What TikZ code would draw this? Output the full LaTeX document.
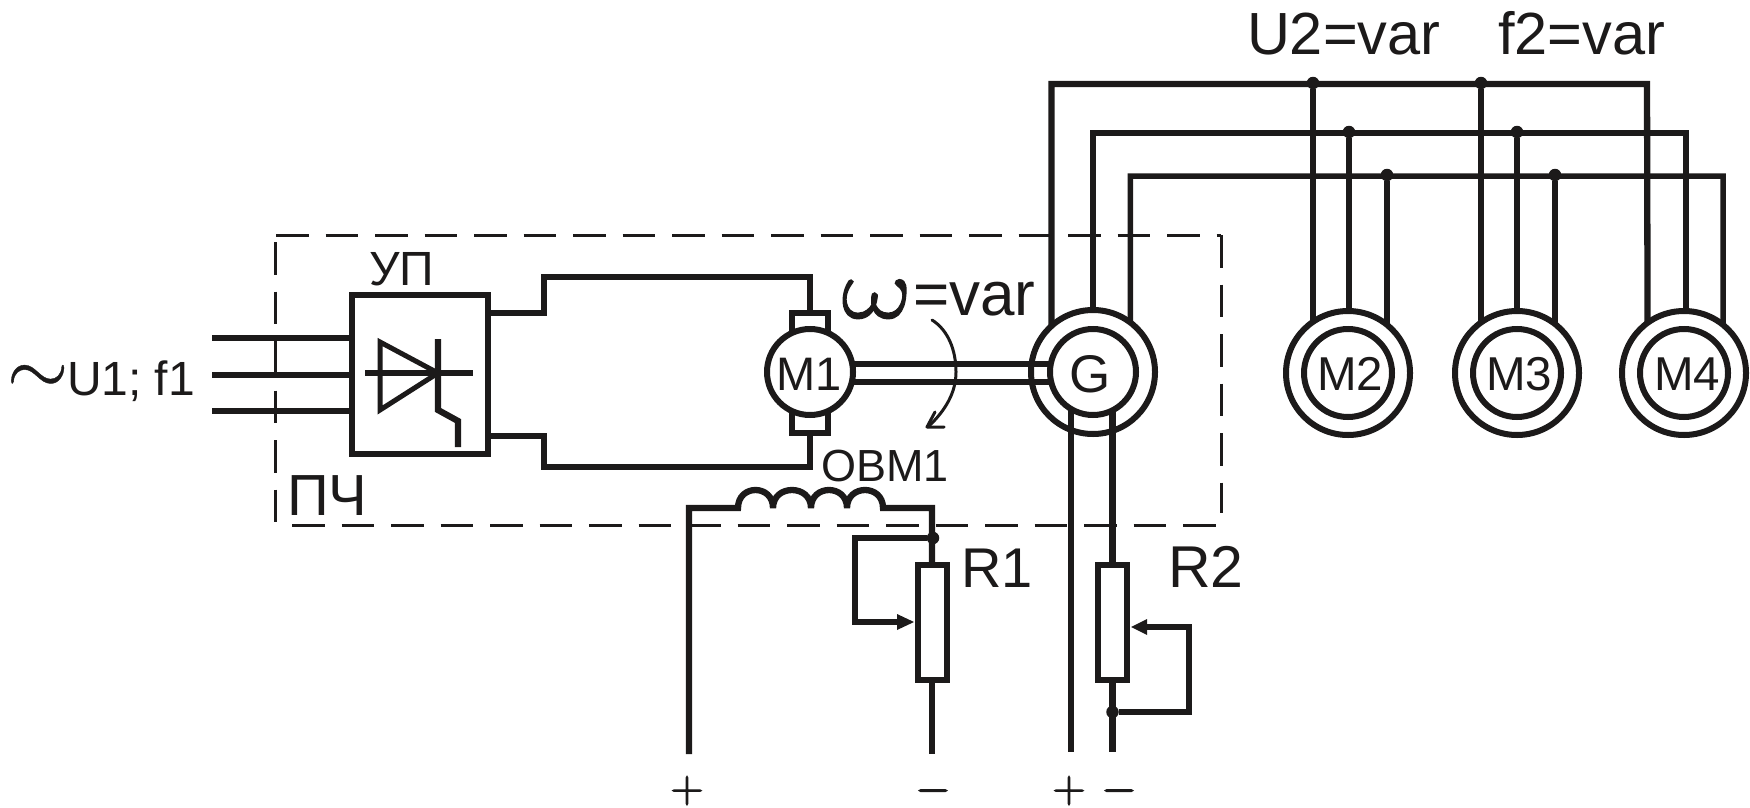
\documentclass[tikz,border=0pt]{standalone}
\usepackage{fontspec}
\setmainfont{Liberation Sans}
\pgfdeclarelayer{bg}
\pgfsetlayers{bg,main}
\definecolor{ink}{HTML}{1C1A1A}
\newcommand{\fsz}[1]{\fontsize{#1}{#1}\selectfont}
\newcommand{\heavy}[2]{\special{pdf:code q 2 Tr #1 w}#2\special{pdf:code Q}}
\tikzset{
  wire/.style={draw=ink,line width=6.3pt,line join=miter,line cap=butt},
  thinwire/.style={draw=ink,line width=5.5pt,line join=miter,line cap=butt},
  dashline/.style={draw=ink,line width=3pt,dash pattern=on 32.5pt off 17pt},
  blockbox/.style={draw=ink,line width=6pt,fill=white,rectangle,inner sep=0pt,outer sep=0pt},
  ring/.style={draw=ink,line width=6pt,circle,inner sep=0pt,outer sep=0pt},
  solder/.style={fill=ink,circle,inner sep=0pt,outer sep=0pt,minimum size=12.5pt},
  lab/.style={text=ink,inner sep=0pt,outer sep=0pt,anchor=base west},
  labc/.style={text=ink,inner sep=0pt,outer sep=0pt,anchor=base}
}
\begin{document}
\begin{tikzpicture}[x=1pt,y=-1pt]
\useasboundingbox (0,0) rectangle (1750,808);
% ---- nodes
\node[blockbox,minimum width=136.5pt,minimum height=159pt] (up) at (419.75,374.5) {};
\node[blockbox,minimum width=36pt,minimum height=120pt] (brush) at (810,373) {};
\node[ring,fill=white,minimum size=86pt] (m1) at (810,372) {};
\node[ring,minimum size=124pt] (gout) at (1093,372) {};
\node[ring,fill=white,minimum size=86pt] (g) at (1093,372) {};
\node[ring,minimum size=124pt] (m2o) at (1348,373) {};
\node[ring,fill=white,minimum size=88pt] (m2) at (1348,373) {};
\node[ring,minimum size=124pt] (m3o) at (1517,373) {};
\node[ring,fill=white,minimum size=88pt] (m3) at (1517,373) {};
\node[ring,minimum size=124pt] (m4o) at (1684,373) {};
\node[ring,fill=white,minimum size=88pt] (m4) at (1684,373) {};
\node[blockbox,minimum width=29pt,minimum height=115pt] (r1) at (932,622.5) {};
\node[blockbox,minimum width=29pt,minimum height=115pt] (r2) at (1112.5,622.5) {};
% free ends
\coordinate (in1) at (212,338);
\coordinate (in2) at (212,375);
\coordinate (in3) at (212,411);
\coordinate (plusA) at (689,754);
\coordinate (minusA) at (932,754);
\coordinate (plusB) at (1071,752);
\coordinate (minusB) at (1112.5,752);
\coordinate (dtl) at (276,235);
\coordinate (dtr) at (1221,235);
\coordinate (dlt) at (275,242);
\coordinate (dlb) at (275,525);
\coordinate (dbl) at (292,525);
\coordinate (dbr) at (1218,525);
\coordinate (drb) at (1221,513);
% junction dots
\node[solder] (ja) at (1313,83) {};
\node[solder] (jb) at (1481,83) {};
\node[solder] (jc) at (1349,132) {};
\node[solder] (jd) at (1517,132) {};
\node[solder] (je) at (1387,175) {};
\node[solder] (jf) at (1555,175) {};
\node[solder] (jr) at (933,538) {};
\node[solder] (js) at (1112.5,712) {};
% ---- connectors under the nodes
\begin{pgfonlayer}{bg}
\draw[dashline] (dtl) -- (dtr);
\draw[dashline] (dlt) -- (dlb);
\draw[dashline] (dbl) -- (dbr);
\draw[dashline] (dtr) -- (drb);
\draw[wire] (in1) -- (up.west |- in1);
\draw[wire] (in2) -- (up.west |- in2);
\draw[thinwire] (in3) -- (up.west |- in3);
\draw[wire] (up.east |- 0,313) -- (544,313) -- (544,277) -- (810,277) -- (brush.north);
\draw[wire] (up.east |- 0,436) -- (544,436) -- (544,467) -- (810,467) -- (brush.south);
\draw[wire] ([yshift=-10pt]m1.center) -- ([yshift=-10pt]g.center);
\draw[wire] ([yshift=8pt]m1.center) -- ([yshift=8pt]g.center);
% three phase rails
\draw[wire] (gout.132) |- (1647,84) -- (m4o.126.6);
\draw[wire] (gout.north) |- (1686,133) -- (m4o.north -| 1686,0);
\draw[thinwire] (gout.53.4) |- (1723,176) -- (m4o.51);
\draw[wire] (ja) -- (ja |- m2o.124.4);
\draw[thinwire] (jc) -- (m2o.north -| jc);
\draw[thinwire] (je) -- (je |- m2o.51);
\draw[wire] (jb) -- (jb |- m3o.125.5);
\draw[thinwire] (jd) -- (m3o.north);
\draw[thinwire] (jf) -- (jf |- m3o.52.2);
% generator leads
\draw[wire] (plusB |- g.center) -- (plusB);
\draw[wire] (minusB |- g.center) -- (r2.north);
\draw[wire] (r2.south) -- (minusB);
% field winding
\draw[wire] (plusA) -- (689,508) -- (738,508)
  .. controls (738,484) and (773,484) .. (773,508)
  .. controls (773,484) and (811,484) .. (811,508)
  .. controls (811,484) and (847,484) .. (847,508)
  .. controls (847,484) and (883,484) .. (883,508)
  -- (932,508) -- (r1.north);
\draw[wire] (r1.south) -- (minusA);
\draw[wire] (jr) -- (855,538) -- (855,622) -- (900,622);
\draw[thinwire] (js) -- (1189,712) -- (1189,627) -- (1146,627);
\end{pgfonlayer}
% variable resistor tips
\fill[ink] (914,622) -- (897,614) -- (897,630) -- cycle;
\fill[ink] (1131,627) -- (1147,619) -- (1147,635) -- cycle;
% thyristor symbol
\draw[wire,line width=5pt,miter limit=20] (438,373) -- (380,342) -- (380,410) -- cycle;
\draw[thinwire] (365,373) -- (473,373);
\draw[wire] (438,339) -- (438,410) -- (458,421) -- (458,447);
% rotation arrow
\draw[draw=ink,line width=3pt,line cap=round,line join=round] (932,320) .. controls (948,330) and (956,350) .. (956,372) .. controls (956,392) and (946,410) .. (928,427);
\draw[draw=ink,line width=3pt,line cap=round,line join=round] (935,412) -- (927,427) -- (944,427);
% ---- labels
\node[lab,font=\fsz{59.5}] (tu) at (1247,55) {U2=var};
\node[lab,font=\fsz{59.5}] (tf) at (1498,55) {f2=var};
\node[lab,font=\fsz{20}] (tt) at (7,394) {\scalebox{3.8}{\heavy{0.1}{$\sim$}}};
\node[lab,font=\fsz{48}] (tv) at (67,395) {U1; f1};
\node[lab,font=\fsz{48}] (ty) at (369,285) {УП};
\node[lab,font=\fsz{58}] (tp) at (287,515) {ПЧ};
\node[lab,font=\fsz{45}] (to) at (821,481) {ОВМ1};
\node[labc,font=\fsz{47}] (tm1) at (809,390) {M1};
\node[labc,font=\fsz{53}] (tg) at (1090,392) {G};
\node[labc,font=\fsz{47.5}] (tm2) at (1350,390) {M2};
\node[labc,font=\fsz{47.5}] (tm3) at (1519,390) {M3};
\node[labc,font=\fsz{47.5}] (tm4) at (1687,390) {M4};
\node[lab,font=\fsz{20},transform shape,xslant=-0.22] (tw) at (845,318) {\scalebox{5.5}[4.2]{\heavy{0.25}{$\omega$}}};
\node[lab,font=\fsz{62}] (te) at (913,315) {=var};
\node[lab,font=\fsz{56}] (tr1) at (961,587) {R1};
\node[lab,font=\fsz{59}] (tr2) at (1168,587) {R2};
\node[labc,font=\fsz{20}] (s1) at (687,802) {\scalebox{2.2}{\heavy{0.5}{$+$}}};
\node[labc,font=\fsz{20}] (s2) at (933,802) {\scalebox{2.2}{\heavy{0.5}{$-$}}};
\node[labc,font=\fsz{20}] (s3) at (1069,802) {\scalebox{2.2}{\heavy{0.5}{$+$}}};
\node[labc,font=\fsz{20}] (s4) at (1119,802) {\scalebox{2.2}{\heavy{0.5}{$-$}}};
\end{tikzpicture}
\end{document}
